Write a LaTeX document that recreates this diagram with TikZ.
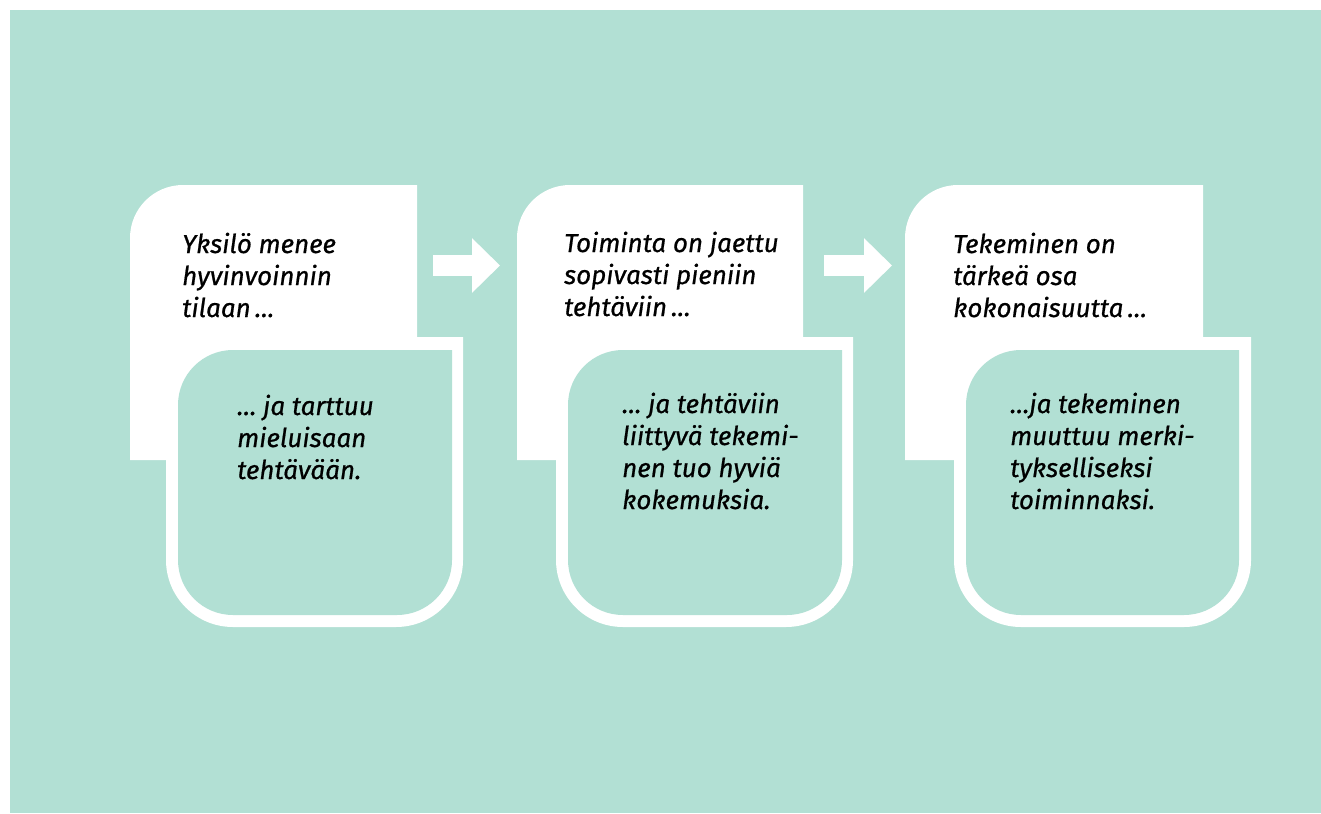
\documentclass[tikz,border=0pt]{standalone}
\usepackage{fontspec}
\setmainfont{Fira Sans}[ItalicFeatures={FakeBold=0.7}]
\usetikzlibrary{arrows.meta}
\definecolor{mint}{RGB}{178,224,212}

\begin{document}
\begin{tikzpicture}[x=1pt,y=-1pt,
    flow/.style={white,line width=21pt,-{Triangle[length=28pt,width=53pt]}},
    upper text/.style={anchor=base west,align=left,inner sep=0pt,
      font=\fontsize{26}{32}\selectfont\itshape},
    lower text/.style={upper text}]

  \fill[white] (0,0) rectangle (1321,813);
  \fill[mint] (10,10) rectangle (1321,813);

  % block 1
  \fill[white] (130,460) -- (130,300) [rounded corners=53pt] -- (130,185) -- (300,185) [sharp corners] -- (417,185) -- (417,460) -- cycle;
  \fill[white] (463,337) -- (463,480) [rounded corners=67pt] -- (463,627) -- (166,627) -- (166,480) [sharp corners] -- (166,337) -- cycle;
  \fill[mint] (452,350) -- (452,480) [rounded corners=55pt] -- (452,615) -- (178,615) -- (178,350) -- (300,350) [sharp corners] -- cycle;

  % block 2
  \fill[white] (517,460) -- (517,300) [rounded corners=53pt] -- (517,185) -- (690,185) [sharp corners] -- (803,185) -- (803,460) -- cycle;
  \fill[white] (853,337) -- (853,480) [rounded corners=67pt] -- (853,627) -- (556,627) -- (556,480) [sharp corners] -- (556,337) -- cycle;
  \fill[mint] (842,350) -- (842,480) [rounded corners=55pt] -- (842,615) -- (568,615) -- (568,350) -- (700,350) [sharp corners] -- cycle;

  % block 3
  \fill[white] (905,460) -- (905,300) [rounded corners=53pt] -- (905,185) -- (1080,185) [sharp corners] -- (1203,185) -- (1203,460) -- cycle;
  \fill[white] (1251,337) -- (1251,480) [rounded corners=67pt] -- (1251,627) -- (954,627) -- (954,480) [sharp corners] -- (954,337) -- cycle;
  \fill[mint] (1239,350) -- (1239,480) [rounded corners=55pt] -- (1239,615) -- (966,615) -- (966,350) -- (1100,350) [sharp corners] -- cycle;

  % base anchor sits on the last line
  \node[upper text] (up1) at (182,317) {Yksilö menee\\hyvinvoinnin\\tilaan\,…};
  \node[lower text] (low1) at (237,479) {… ja tarttuu\\mieluisaan\\tehtävään.};
  \node[upper text] (up2) at (564,316) {Toiminta on jaettu\\sopivasti pieniin\\tehtäviin\,…};
  \node[lower text] (low2) at (622,509) {… ja tehtäviin\\liittyvä tekemi-\\nen tuo hyviä\\kokemuksia.};
  \node[upper text] (up3) at (953,317) {Tekeminen on\\tärkeä osa\\kokonaisuutta\,…};
  \node[lower text] (low3) at (1010,509) {…ja tekeminen\\muuttuu merki-\\tykselliseksi\\toiminnaksi.};

  \coordinate (arr1s) at (433,265.5);
  \coordinate (arr1e) at (500,265.5);
  \coordinate (arr2s) at (824,265.5);
  \coordinate (arr2e) at (892,265.5);
  \draw[flow] (arr1s) -- (arr1e);
  \draw[flow] (arr2s) -- (arr2e);
\end{tikzpicture}
\end{document}
